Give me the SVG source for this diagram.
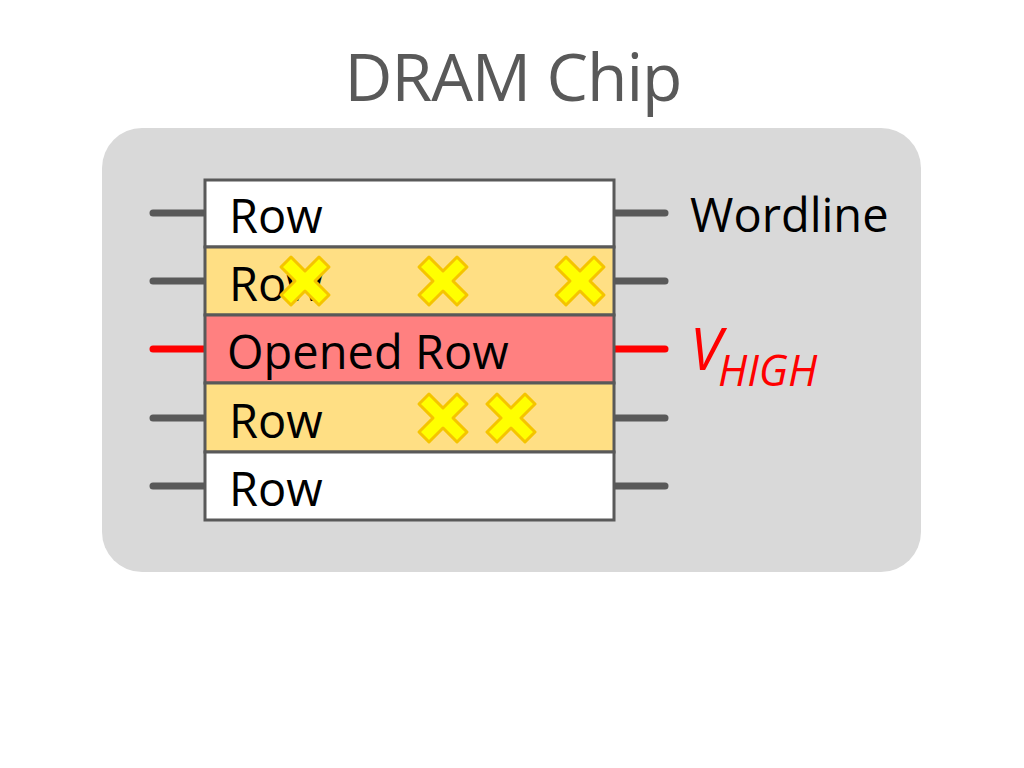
<svg xmlns="http://www.w3.org/2000/svg" width="1024" height="768" viewBox="0 0 1024 768">
<defs>
<style>
.t{font-family:"Open Sans","Liberation Sans",sans-serif;fill:#000;font-size:47px}
.wl{stroke:#595959;stroke-width:7;stroke-linecap:round}
.red{stroke:#ff0000}
.row{stroke:#595959;stroke-width:3}
.x{fill:#ffff00;stroke:#f5c400;stroke-width:3;stroke-linejoin:round}
</style>
<path id="xm" d="M-14,-24 L0,-10 L14,-24 L24,-14 L10,0 L24,14 L14,24 L0,10 L-14,24 L-24,14 L-10,0 L-24,-14 Z"/>
</defs>
<rect width="1024" height="768" fill="#fff"/>
<text x="513" y="101" text-anchor="middle" class="t" style="fill:#595959;font-size:66px;letter-spacing:-1px">DRAM Chip</text>
<rect x="102" y="128" width="819" height="444" rx="40" fill="#d9d9d9"/>
<g id="connectors">
<line class="wl" x1="153" y1="213" x2="204" y2="213"/><line class="wl" x1="614" y1="213" x2="665" y2="213"/>
<line class="wl" x1="153" y1="281" x2="204" y2="281"/><line class="wl" x1="614" y1="281" x2="665" y2="281"/>
<line class="wl red" x1="153" y1="349" x2="204" y2="349"/><line class="wl red" x1="614" y1="349" x2="665" y2="349"/>
<line class="wl" x1="153" y1="418" x2="204" y2="418"/><line class="wl" x1="614" y1="418" x2="665" y2="418"/>
<line class="wl" x1="153" y1="486" x2="204" y2="486"/><line class="wl" x1="614" y1="486" x2="665" y2="486"/>
</g>
<g id="row1"><rect class="row" x="205" y="180" width="409" height="67" fill="#fff"/><text class="t" x="229" y="233">Row</text></g>
<g id="row2"><rect class="row" x="205" y="247" width="409" height="68" fill="#ffdf84"/><text class="t" x="229" y="301">Row</text></g>
<g id="row3"><rect class="row" x="205" y="315" width="409" height="68" fill="#ff8080"/><text class="t" x="227" y="369">Opened Row</text></g>
<g id="row4"><rect class="row" x="205" y="383" width="409" height="69" fill="#ffdf84"/><text class="t" x="229" y="438">Row</text></g>
<g id="row5"><rect class="row" x="205" y="452" width="409" height="68" fill="#fff"/><text class="t" x="229" y="506">Row</text></g>
<g id="errors">
<use href="#xm" class="x" x="305" y="281"/>
<use href="#xm" class="x" x="443" y="281"/>
<use href="#xm" class="x" x="580" y="281"/>
<use href="#xm" class="x" x="443" y="418"/>
<use href="#xm" class="x" x="511" y="418"/>
</g>
<text class="t" x="690" y="232">Wordline</text>
<text class="t" x="690" y="370" style="fill:#ff0000;font-size:58px;font-style:italic">V<tspan font-size="43" dy="16" dx="-4">HIGH</tspan></text>
</svg>
